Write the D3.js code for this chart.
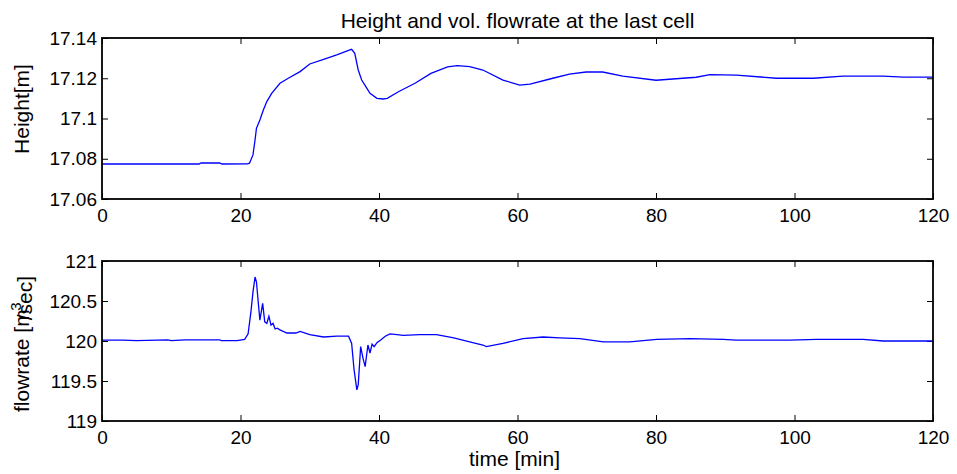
<!DOCTYPE html>
<html>
<head>
<meta charset="utf-8">
<script src="https://cdn.jsdelivr.net/npm/d3@7"></script>
<style>
  body { margin: 0; background: #fff; }
  svg text { font-family: "Liberation Sans", Arial, sans-serif; fill: #000; }
</style>
</head>
<body>
<div id="chart"></div>
<script>
// Height at the last cell [m]
const heightTime = [0, 5, 10, 14, 14.3, 17, 17.3, 21, 21.3, 21.8, 22.1, 22.3, 22.8, 23.3, 23.8,
  24.5, 25.7, 26.9, 28.6, 30, 32, 33.9, 35.7, 36.05, 36.5, 37, 37.5, 38.1, 38.7, 39.7, 40.6,
  41.2, 42.8, 45.2, 47.5, 49.9, 51.3, 53.1, 55, 57.9, 60.3, 61.8, 65.1, 67.5, 69.9, 72.3,
  75.2, 80, 85.8, 87.8, 91.6, 97.4, 102.7, 107, 112.8, 115.7, 120];
const heightValues = [17.0774, 17.0774, 17.0774, 17.0774, 17.0779, 17.0779, 17.0774, 17.0775,
  17.0778, 17.0819, 17.0893, 17.0951, 17.0993, 17.1042, 17.1084, 17.1125, 17.1175, 17.12,
  17.1233, 17.1271, 17.1294, 17.1316, 17.1340, 17.1344, 17.1324, 17.1241, 17.1191, 17.1158,
  17.1125, 17.11, 17.1097, 17.11, 17.1133, 17.1175, 17.1224, 17.1257, 17.1263, 17.1258,
  17.1241, 17.1191, 17.1166, 17.1171, 17.12, 17.1221, 17.1231, 17.1231, 17.1211, 17.119,
  17.1205, 17.1218, 17.1216, 17.12, 17.12, 17.1211, 17.1211, 17.1206, 17.1206];

// Volumetric flowrate at the last cell [m^3/sec]
const flowTime = [0, 3, 5, 8, 9.5, 10, 12, 17, 17.2, 19.5, 20.6, 21.1, 21.5, 21.8, 22.1, 22.3,
  22.6, 22.8, 23.2, 23.5, 23.8, 24.1, 24.4, 24.7, 25, 25.3, 25.7, 26.7, 28, 28.6, 30, 32,
  33.9, 35.6, 36.05, 36.4, 36.8, 37, 37.35, 37.7, 38, 38.4, 38.7, 39, 39.3, 39.7, 40.2, 40.9,
  41.6, 42.6, 43.5, 45.9, 48.3, 50.8, 53.1, 55, 55.5, 57.9, 60.8, 63.7, 66.1, 69, 72.4, 76.2,
  80.1, 84.9, 89.7, 91.6, 99.3, 103.2, 109.9, 112.8, 120];
const flowValues = [120.01, 120.01, 120.005, 120.01, 120.015, 120.005, 120.015, 120.015,
  120.005, 120.005, 120.02, 120.09, 120.36, 120.61, 120.8, 120.74, 120.45, 120.26, 120.47,
  120.24, 120.22, 120.31, 120.2, 120.22, 120.15, 120.16, 120.14, 120.1, 120.1, 120.12, 120.08,
  120.05, 120.06, 120.06, 119.97, 119.64, 119.39, 119.45, 119.93, 119.78, 119.68, 119.95,
  119.85, 119.96, 119.93, 119.98, 120.01, 120.06, 120.09, 120.08, 120.07, 120.08, 120.08,
  120.04, 119.99, 119.95, 119.93, 119.97, 120.03, 120.05, 120.04, 120.03, 119.99, 119.99,
  120.02, 120.03, 120.02, 120.01, 120.01, 120.02, 120.02, 120.0, 120.0];

// Tick labels
const timeTicks = [0, 20, 40, 60, 80, 100, 120];
const heightTicks = [17.06, 17.08, 17.1, 17.12, 17.14];
const flowTicks = [119, 119.5, 120, 120.5, 121];

const width = 957;
const height = 474;
const plotLeft = 102;
const plotRight = 933;
const tickLen = 6;
const tickFont = 19;
const labelFont = 21;

const svg = d3.select('#chart').append('svg')
  .attr('width', width)
  .attr('height', height);

const xScale = d3.scaleLinear().domain([0, 120]).range([plotLeft, plotRight]);

function drawPanel(top, bottom, yDomain, yTicks, times, values) {
  const yScale = d3.scaleLinear().domain(yDomain).range([bottom, top]);
  const g = svg.append('g');

  // inward ticks on all four sides, labels only left and bottom
  const xAxis = d3.axisBottom(xScale).tickValues(timeTicks)
    .tickSizeInner(-tickLen).tickSizeOuter(0).tickPadding(9.5).tickFormat(d3.format('d'));
  const xTop = d3.axisTop(xScale).tickValues(timeTicks)
    .tickSizeInner(-tickLen).tickSizeOuter(0).tickFormat('');
  const yAxis = d3.axisLeft(yScale).tickValues(yTicks)
    .tickSizeInner(-tickLen).tickSizeOuter(0).tickPadding(5).tickFormat(d => String(d));
  const yRight = d3.axisRight(yScale).tickValues(yTicks)
    .tickSizeInner(-tickLen).tickSizeOuter(0).tickFormat('');

  const axes = [
    g.append('g').attr('transform', `translate(0,${bottom})`).call(xAxis),
    g.append('g').attr('transform', `translate(0,${top})`).call(xTop),
    g.append('g').attr('transform', `translate(${plotLeft},0)`).call(yAxis),
    g.append('g').attr('transform', `translate(${plotRight},0)`).call(yRight),
  ];
  axes.forEach(a => {
    a.select('.domain').remove();
    a.selectAll('line').attr('stroke', '#000').attr('stroke-width', 1);
    a.selectAll('text')
      .style('font-family', '"Liberation Sans", Arial, sans-serif')
      .style('font-size', tickFont + 'px')
      .attr('fill', '#000');
  });

  g.append('path')
    .datum(times.map((t, i) => [t, values[i]]))
    .attr('fill', 'none')
    .attr('stroke', '#0000ff')
    .attr('stroke-width', 1.3)
    .attr('d', d3.line().x(d => xScale(d[0])).y(d => yScale(d[1])));

  g.append('rect')
    .attr('x', plotLeft)
    .attr('y', top)
    .attr('width', plotRight - plotLeft)
    .attr('height', bottom - top)
    .attr('fill', 'none')
    .attr('stroke', '#000')
    .attr('stroke-width', 1.8);
}

drawPanel(38, 199, [17.06, 17.14], heightTicks, heightTime, heightValues);
drawPanel(261, 421, [119, 121], flowTicks, flowTime, flowValues);

const midX = (plotLeft + plotRight) / 2;

svg.append('text')
  .attr('x', midX)
  .attr('y', 28)
  .attr('text-anchor', 'middle')
  .style('font-size', labelFont + 'px')
  .text('Height and vol. flowrate at the last cell');

svg.append('text')
  .attr('x', midX - 3)
  .attr('y', 466)
  .attr('text-anchor', 'middle')
  .style('font-size', labelFont + 'px')
  .text('time [min]');

svg.append('text')
  .attr('transform', 'translate(29,109) rotate(-90)')
  .attr('text-anchor', 'middle')
  .style('font-size', labelFont + 'px')
  .text('Height[m]');

// the superscript overlaps "/sec" like in the original
const flowLabel = svg.append('text')
  .attr('transform', 'translate(29,344) rotate(-90)')
  .attr('text-anchor', 'middle')
  .style('font-size', labelFont + 'px');
flowLabel.append('tspan').text('flowrate [m');
flowLabel.append('tspan').attr('dy', '-0.55em').attr('dx', '-0.1em').style('font-size', '15px').text('3');
flowLabel.append('tspan').attr('dy', '0.55em').attr('dx', '-0.85em').text('/sec]');
</script>
</body>
</html>
